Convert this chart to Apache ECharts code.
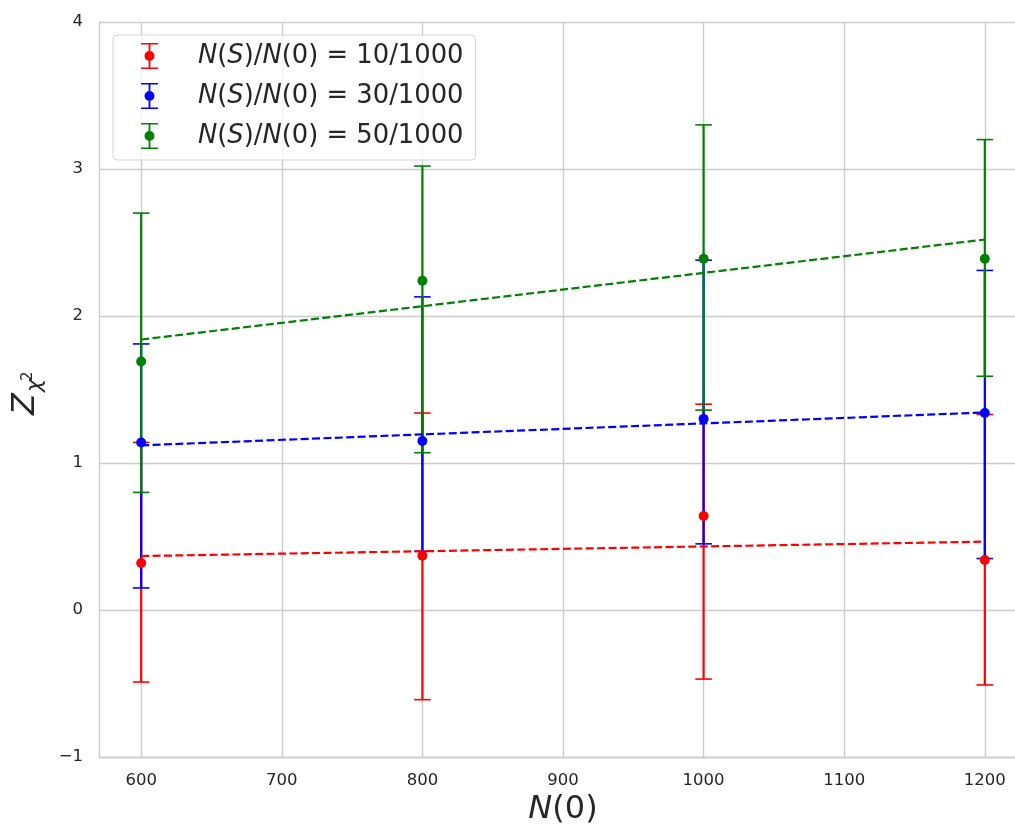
<!DOCTYPE html>
<html>
<head>
<meta charset="utf-8">
<title>Z_chi2 vs N(0)</title>
<script src="https://cdn.jsdelivr.net/npm/echarts@6/dist/echarts.min.js"></script>
<style>
  html, body { margin: 0; padding: 0; background: #ffffff; overflow: hidden; }
  #chart { width: 1015px; height: 831px; }
</style>
</head>
<body>
<div id="chart"></div>
<script>
// Sample sizes N(0) on the x axis
const nValues = [600, 800, 1000, 1200];
// End points of the fitted trend lines
const fitX = [600, 1200];
// Tick positions
const xTicks = [600, 700, 800, 900, 1000, 1100, 1200];
const yTicks = [-1, 0, 1, 2, 3, 4];

// Series names
const seriesNames = [
  'N(S)/N(0) = 10/1000',
  'N(S)/N(0) = 30/1000',
  'N(S)/N(0) = 50/1000'
];
const seriesColors = ['#ff0000', '#0000ff', '#008000'];

// N(S)/N(0) = 10/1000
const zRed = [0.32, 0.37, 0.64, 0.34];
const lowRed = [-0.49, -0.61, -0.47, -0.51];
const highRed = [1.14, 1.34, 1.40, 1.33];
const fitRed = [0.367, 0.465];

// N(S)/N(0) = 30/1000
const zBlue = [1.14, 1.15, 1.30, 1.34];
const lowBlue = [0.15, 0.40, 0.45, 0.35];
const highBlue = [1.81, 2.13, 2.38, 2.31];
const fitBlue = [1.12, 1.344];

// N(S)/N(0) = 50/1000
const zGreen = [1.69, 2.24, 2.39, 2.39];
const lowGreen = [0.80, 1.07, 1.36, 1.59];
const highGreen = [2.70, 3.02, 3.30, 3.20];
const fitGreen = [1.84, 2.52];

const groups = [
  { z: zRed, low: lowRed, high: highRed, fit: fitRed },
  { z: zBlue, low: lowBlue, high: highBlue, fit: fitBlue },
  { z: zGreen, low: lowGreen, high: highGreen, fit: fitGreen }
];

const FONT = "'DejaVu Sans', 'Liberation Sans', sans-serif";
const TEXT_COLOR = '#262626';
const GRID_COLOR = '#cccccc';

// Legend glyph: capped vertical bar with a dot in the middle
const errorBarIcon = 'path://M0,0H17V1.6H0Z M7.6,0H9.4V26H7.6Z M0,24.4H17V26H0Z ' +
  'M8.5,8A5,5 0 1,1 8.5,18A5,5 0 1,1 8.5,8Z';

function errorBarItem(params, api) {
  const x = api.value(0);
  const lo = api.coord([x, api.value(1)]);
  const hi = api.coord([x, api.value(2)]);
  const color = api.visual('color');
  const half = 8.3;
  return {
    type: 'group',
    children: [
      { type: 'line', shape: { x1: lo[0], y1: lo[1], x2: hi[0], y2: hi[1] },
        style: { stroke: color, lineWidth: 2.2 } },
      { type: 'line', shape: { x1: hi[0] - half, y1: hi[1], x2: hi[0] + half, y2: hi[1] },
        style: { stroke: color, lineWidth: 1.6 } },
      { type: 'line', shape: { x1: lo[0] - half, y1: lo[1], x2: lo[0] + half, y2: lo[1] },
        style: { stroke: color, lineWidth: 1.6 } }
    ]
  };
}

const series = [];
groups.forEach((g, i) => {
  const name = seriesNames[i];
  const color = seriesColors[i];
  series.push({
    name: name,
    type: 'custom',
    renderItem: errorBarItem,
    itemStyle: { color: color },
    encode: { x: 0, y: [1, 2] },
    data: nValues.map((n, k) => [n, g.low[k], g.high[k]]),
    z: 2 + i * 0.01,
    silent: true
  });
  series.push({
    name: name,
    type: 'line',
    data: fitX.map((n, k) => [n, g.fit[k]]),
    symbol: 'none',
    lineStyle: { color: color, width: 2.2, type: [8, 3.4] },
    itemStyle: { color: color },
    z: 3 + i * 0.01,
    silent: true
  });
});
groups.forEach((g, i) => {
  series.push({
    name: seriesNames[i],
    type: 'scatter',
    data: nValues.map((n, k) => [n, g.z[k]]),
    symbol: 'circle',
    symbolSize: 10,
    itemStyle: { color: seriesColors[i], opacity: 1 },
    z: 4 + i * 0.01
  });
});

function mathLabel(name) {
  return name.replace(/[NS]/g, m => '{i|' + m + '}');
}

const chart = echarts.init(document.getElementById('chart'), null, { renderer: 'canvas' });
chart.setOption({
  animation: false,
  backgroundColor: '#ffffff',
  textStyle: { fontFamily: FONT },
  // the plotting area runs past the right edge of the canvas
  grid: { left: 99, right: -12, top: 22, bottom: 74, containLabel: false, outerBoundsMode: 'none' },
  legend: {
    orient: 'vertical',
    left: 113,
    top: 35,
    padding: [8, 12, 11, 28],
    itemGap: 14,
    itemWidth: 17,
    itemHeight: 26,
    backgroundColor: 'rgba(255,255,255,0.8)',
    borderColor: '#d6d6d6',
    borderWidth: 1,
    borderRadius: 4,
    selectedMode: false,
    data: seriesNames.map(n => ({ name: n, icon: errorBarIcon })),
    formatter: mathLabel,
    textStyle: {
      fontFamily: FONT,
      fontSize: 25.8,
      color: TEXT_COLOR,
      padding: [0, 0, 0, 35],
      rich: {
        i: { fontFamily: FONT, fontSize: 25.8, fontStyle: 'italic', color: TEXT_COLOR }
      }
    }
  },
  xAxis: {
    type: 'value',
    min: 570,
    max: 1230,
    name: '{i|N}(0)',
    nameLocation: 'middle',
    nameGap: 34,
    nameTextStyle: {
      fontFamily: FONT,
      fontSize: 32,
      color: TEXT_COLOR,
      rich: { i: { fontFamily: FONT, fontSize: 32, fontStyle: 'italic', color: TEXT_COLOR } }
    },
    axisLine: { show: true, onZero: false, lineStyle: { color: GRID_COLOR, width: 1.4 } },
    axisTick: { show: false, customValues: xTicks },
    axisLabel: {
      customValues: xTicks,
      margin: 15,
      fontFamily: FONT,
      fontSize: 16.5,
      color: TEXT_COLOR,
      formatter: v => String(v)
    },
    splitLine: { show: true, lineStyle: { color: GRID_COLOR, width: 1.4 } }
  },
  yAxis: {
    type: 'value',
    min: -1,
    max: 4,
    interval: 1,
    axisLine: { show: true, onZero: false, lineStyle: { color: GRID_COLOR, width: 1.4 } },
    axisTick: { show: false, customValues: yTicks },
    axisLabel: {
      customValues: yTicks,
      margin: 16,
      fontFamily: FONT,
      fontSize: 16.5,
      color: TEXT_COLOR,
      formatter: v => (v < 0 ? '\u2212' + Math.abs(v) : String(v))
    },
    splitLine: { show: true, lineStyle: { color: GRID_COLOR, width: 1.4 } }
  },
  graphic: [
    {
      // y-axis title Z_{chi^2}, read bottom to top
      type: 'group',
      x: 37,
      y: 415,
      rotation: Math.PI / 2,
      children: [
        { type: 'text', x: 0, y: -11,
          style: { text: 'Z', font: 'italic 32px ' + FONT, fill: TEXT_COLOR,
                   textAlign: 'left', textVerticalAlign: 'middle' } },
        { type: 'text', x: 23, y: -1.6,
          style: { text: '\u03c7', font: 'italic 22px ' + FONT, fill: TEXT_COLOR,
                   textAlign: 'left', textVerticalAlign: 'middle' } },
        { type: 'text', x: 34, y: -9.2,
          style: { text: '2', font: '15px ' + FONT, fill: TEXT_COLOR,
                   textAlign: 'left', textVerticalAlign: 'middle' } }
      ]
    }
  ],
  series: series
});
</script>
</body>
</html>
